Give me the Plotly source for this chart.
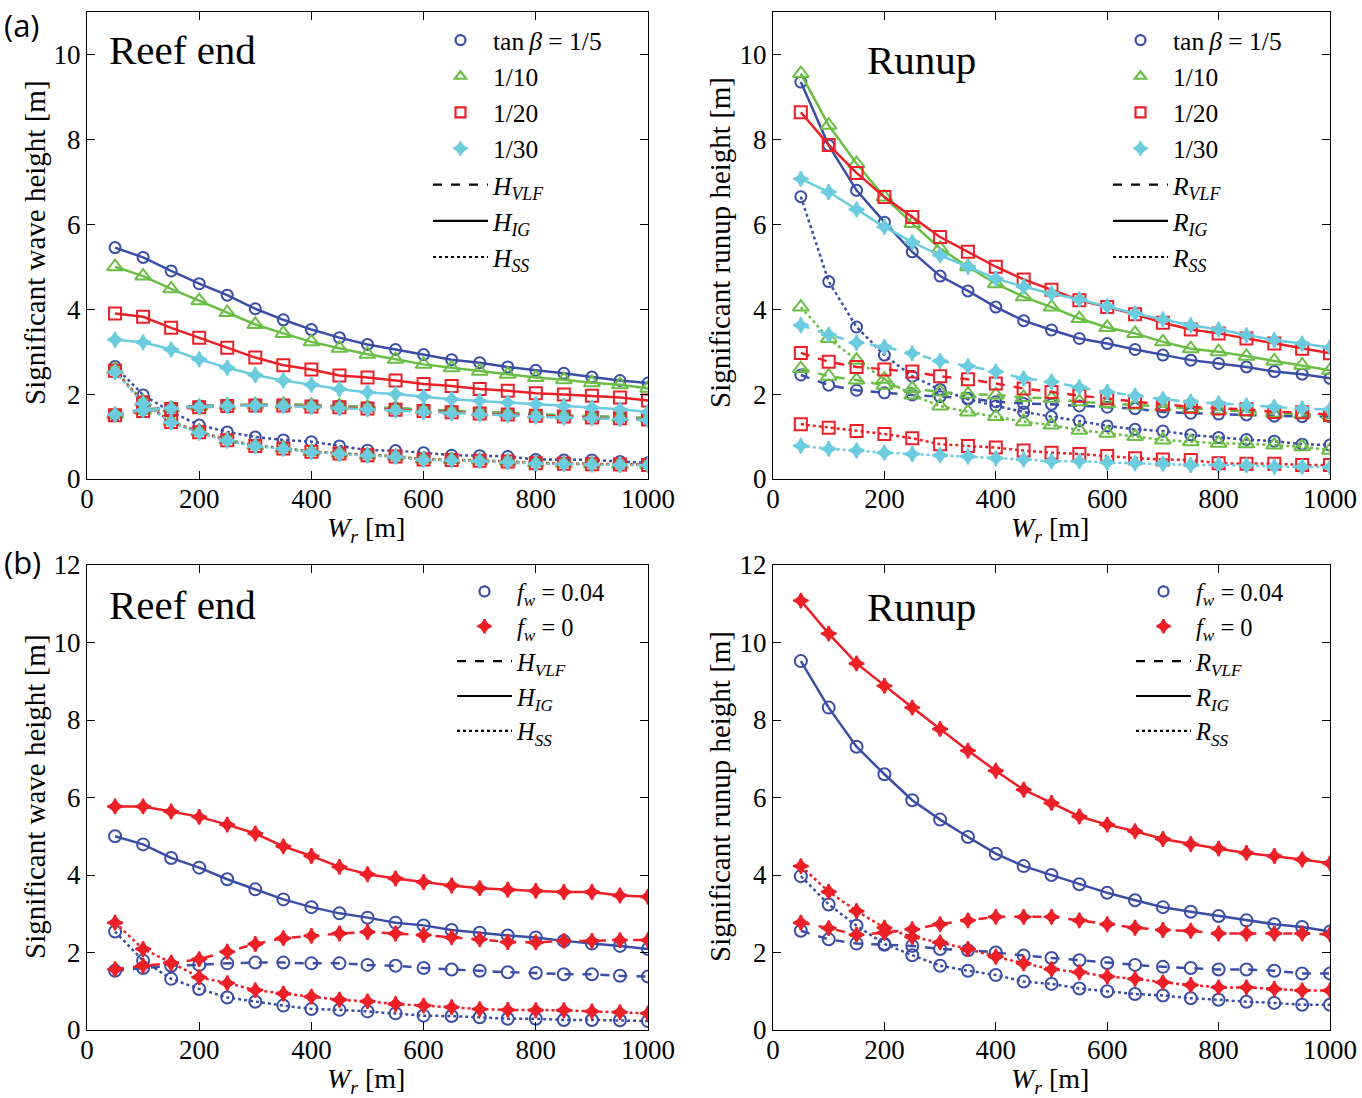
import plotly.graph_objects as go
from plotly.subplots import make_subplots

# ---------------- data ----------------
W = [50, 100, 150, 200, 250, 300, 350, 400, 450, 500, 550, 600, 650, 700, 750, 800, 850, 900, 950, 1000]

slope_labels = ["tan\u2009<i>β</i> = 1/5", "1/10", "1/20", "1/30"]

# (a) Reef end
H_IG_5 = [5.45, 5.22, 4.90, 4.60, 4.33, 4.01, 3.75, 3.52, 3.33, 3.17, 3.05, 2.93, 2.81, 2.74, 2.64, 2.56, 2.49, 2.40, 2.32, 2.26]
H_IG_10 = [5.00, 4.78, 4.48, 4.20, 3.92, 3.64, 3.43, 3.23, 3.08, 2.94, 2.82, 2.70, 2.62, 2.54, 2.47, 2.39, 2.34, 2.27, 2.22, 2.14]
H_IG_20 = [3.90, 3.82, 3.56, 3.33, 3.09, 2.86, 2.68, 2.58, 2.44, 2.39, 2.32, 2.24, 2.19, 2.12, 2.08, 2.02, 1.99, 1.96, 1.92, 1.85]
H_IG_30 = [3.28, 3.22, 3.05, 2.82, 2.62, 2.45, 2.32, 2.22, 2.12, 2.04, 2.00, 1.94, 1.88, 1.84, 1.80, 1.76, 1.72, 1.68, 1.64, 1.58]

H_VLF_5 = [1.52, 1.64, 1.68, 1.72, 1.74, 1.75, 1.75, 1.74, 1.72, 1.69, 1.66, 1.63, 1.60, 1.57, 1.54, 1.52, 1.49, 1.47, 1.45, 1.43]
H_VLF_10 = [1.52, 1.62, 1.67, 1.71, 1.74, 1.75, 1.76, 1.74, 1.72, 1.70, 1.67, 1.64, 1.61, 1.58, 1.55, 1.53, 1.50, 1.48, 1.46, 1.44]
H_VLF_20 = [1.50, 1.60, 1.65, 1.69, 1.72, 1.73, 1.73, 1.71, 1.69, 1.66, 1.63, 1.60, 1.57, 1.54, 1.52, 1.49, 1.47, 1.45, 1.43, 1.40]
H_VLF_30 = [1.52, 1.62, 1.66, 1.70, 1.72, 1.73, 1.72, 1.70, 1.67, 1.64, 1.61, 1.58, 1.55, 1.52, 1.50, 1.47, 1.45, 1.43, 1.41, 1.39]

H_SS_5 = [2.65, 1.98, 1.58, 1.27, 1.11, 0.99, 0.92, 0.88, 0.78, 0.68, 0.67, 0.62, 0.56, 0.55, 0.53, 0.46, 0.45, 0.45, 0.41, 0.38]
H_SS_10 = [2.58, 1.82, 1.36, 1.12, 0.93, 0.79, 0.73, 0.65, 0.61, 0.57, 0.54, 0.47, 0.46, 0.44, 0.42, 0.38, 0.37, 0.36, 0.35, 0.34]
H_SS_20 = [2.55, 1.80, 1.34, 1.10, 0.91, 0.78, 0.72, 0.64, 0.60, 0.56, 0.53, 0.46, 0.45, 0.43, 0.41, 0.37, 0.36, 0.35, 0.34, 0.33]
H_SS_30 = [2.52, 1.78, 1.33, 1.09, 0.90, 0.77, 0.71, 0.63, 0.59, 0.55, 0.52, 0.45, 0.44, 0.42, 0.40, 0.36, 0.35, 0.34, 0.33, 0.32]

# (a) Runup
R_IG_5 = [9.35, 7.86, 6.80, 6.05, 5.35, 4.78, 4.43, 4.05, 3.73, 3.51, 3.31, 3.19, 3.05, 2.92, 2.80, 2.72, 2.64, 2.53, 2.47, 2.37]
R_IG_10 = [9.55, 8.33, 7.43, 6.64, 6.02, 5.43, 5.00, 4.60, 4.29, 4.05, 3.78, 3.57, 3.43, 3.23, 3.07, 3.00, 2.89, 2.78, 2.68, 2.56]
R_IG_20 = [8.64, 7.87, 7.21, 6.64, 6.17, 5.70, 5.35, 5.00, 4.70, 4.46, 4.21, 4.05, 3.88, 3.68, 3.52, 3.43, 3.31, 3.19, 3.07, 2.96]
R_IG_30 = [7.07, 6.76, 6.35, 5.94, 5.58, 5.27, 5.00, 4.72, 4.53, 4.37, 4.23, 4.07, 3.90, 3.76, 3.62, 3.52, 3.39, 3.27, 3.19, 3.10]

R_VLF_5 = [2.45, 2.21, 2.09, 2.03, 1.98, 1.94, 1.90, 1.82, 1.78, 1.76, 1.72, 1.69, 1.66, 1.58, 1.55, 1.53, 1.51, 1.48, 1.47, 1.47]
R_VLF_10 = [2.60, 2.42, 2.33, 2.21, 2.13, 2.05, 2.00, 1.98, 1.92, 1.90, 1.82, 1.78, 1.74, 1.70, 1.66, 1.62, 1.58, 1.55, 1.53, 1.51]
R_VLF_20 = [2.97, 2.76, 2.64, 2.58, 2.53, 2.42, 2.35, 2.25, 2.13, 2.05, 1.96, 1.90, 1.82, 1.76, 1.70, 1.66, 1.64, 1.58, 1.57, 1.51]
R_VLF_30 = [3.62, 3.40, 3.21, 3.11, 2.96, 2.78, 2.66, 2.53, 2.37, 2.29, 2.16, 2.05, 1.96, 1.88, 1.82, 1.78, 1.73, 1.70, 1.66, 1.64]

R_SS_5 = [6.65, 4.65, 3.58, 2.92, 2.42, 2.11, 1.88, 1.72, 1.58, 1.47, 1.37, 1.25, 1.17, 1.13, 1.04, 0.98, 0.93, 0.89, 0.82, 0.80]
R_SS_10 = [4.05, 3.31, 2.80, 2.35, 1.98, 1.72, 1.58, 1.47, 1.35, 1.27, 1.15, 1.08, 1.00, 0.92, 0.88, 0.84, 0.83, 0.80, 0.76, 0.68]
R_SS_20 = [1.29, 1.21, 1.13, 1.06, 0.96, 0.82, 0.78, 0.74, 0.67, 0.62, 0.59, 0.54, 0.49, 0.46, 0.45, 0.37, 0.36, 0.36, 0.33, 0.33]
R_SS_30 = [0.78, 0.71, 0.67, 0.62, 0.59, 0.56, 0.53, 0.49, 0.46, 0.42, 0.42, 0.39, 0.37, 0.36, 0.33, 0.33, 0.32, 0.29, 0.29, 0.28]

# (b) friction
fw_labels = ["<i>f<sub>w</sub></i> = 0.04", "<i>f<sub>w</sub></i> = 0"]

H_IG_f004 = [5.00, 4.79, 4.44, 4.19, 3.89, 3.63, 3.37, 3.17, 3.01, 2.90, 2.77, 2.70, 2.58, 2.51, 2.44, 2.39, 2.30, 2.23, 2.17, 2.09]
H_IG_f0 = [5.77, 5.77, 5.64, 5.50, 5.30, 5.07, 4.74, 4.49, 4.21, 4.02, 3.91, 3.82, 3.73, 3.66, 3.62, 3.59, 3.56, 3.56, 3.47, 3.44]
H_VLF_f004 = [1.53, 1.60, 1.66, 1.68, 1.72, 1.74, 1.74, 1.72, 1.72, 1.68, 1.66, 1.60, 1.56, 1.53, 1.49, 1.47, 1.44, 1.44, 1.40, 1.38]
H_VLF_f0 = [1.57, 1.66, 1.72, 1.83, 2.02, 2.22, 2.37, 2.43, 2.49, 2.53, 2.49, 2.45, 2.39, 2.34, 2.27, 2.26, 2.30, 2.30, 2.32, 2.32]
H_SS_f004 = [2.54, 1.79, 1.32, 1.06, 0.84, 0.73, 0.63, 0.54, 0.52, 0.48, 0.43, 0.37, 0.36, 0.33, 0.29, 0.29, 0.26, 0.26, 0.25, 0.23]
H_SS_f0 = [2.77, 2.09, 1.74, 1.36, 1.21, 1.03, 0.94, 0.86, 0.78, 0.74, 0.67, 0.63, 0.59, 0.54, 0.52, 0.51, 0.51, 0.48, 0.46, 0.43]

R_IG_f004 = [9.52, 8.32, 7.31, 6.60, 5.93, 5.43, 4.98, 4.55, 4.23, 4.00, 3.76, 3.54, 3.35, 3.17, 3.05, 2.94, 2.83, 2.73, 2.66, 2.54]
R_IG_f0 = [11.08, 10.23, 9.46, 8.88, 8.32, 7.77, 7.21, 6.69, 6.20, 5.86, 5.51, 5.30, 5.13, 4.93, 4.80, 4.68, 4.57, 4.49, 4.40, 4.30]
R_VLF_f004 = [2.56, 2.34, 2.23, 2.20, 2.17, 2.09, 2.06, 2.00, 1.92, 1.86, 1.80, 1.73, 1.68, 1.63, 1.60, 1.56, 1.56, 1.53, 1.46, 1.46]
R_VLF_f0 = [2.77, 2.63, 2.46, 2.51, 2.60, 2.73, 2.83, 2.92, 2.92, 2.92, 2.83, 2.73, 2.64, 2.58, 2.56, 2.49, 2.49, 2.49, 2.49, 2.47]
R_SS_f004 = [3.97, 3.24, 2.69, 2.22, 1.93, 1.66, 1.53, 1.42, 1.25, 1.19, 1.07, 1.00, 0.93, 0.89, 0.82, 0.78, 0.73, 0.70, 0.65, 0.65]
R_SS_f0 = [4.23, 3.57, 3.07, 2.64, 2.40, 2.26, 2.09, 1.89, 1.72, 1.57, 1.49, 1.38, 1.32, 1.23, 1.16, 1.10, 1.10, 1.06, 1.02, 1.02]

x_ticks = [0, 200, 400, 600, 800, 1000]

# ---------------- styling ----------------
FIG_W, FIG_H = 1362, 1098
OFF = 0  # body margin removed by post_script below


def px_x(X):
    return (X - OFF) / FIG_W


def px_y(Y):
    return 1 - (Y - OFF) / FIG_H


BLUE = "#3b4ea6"
GREEN = "#6abd45"
RED = "#ec2027"
CYAN = "#6cccdf"
SERIF = "Liberation Serif"

slope_styles = [
    dict(color=BLUE, symbol="circle-open", size=11),
    dict(color=GREEN, symbol="triangle-up-open", size=14),
    dict(color=RED, symbol="square-open", size=12),
    dict(color=CYAN, symbol="star-diamond", size=11),
]
fw_styles = [
    dict(color=BLUE, symbol="circle-open", size=12),
    dict(color=RED, symbol="star-diamond", size=11),
]
comp_dash = {"VLF": "dash", "IG": "solid", "SS": "dot"}

fig = make_subplots(rows=2, cols=2)

domains = {
    (1, 1): ((87, 648), (12, 479)),
    (1, 2): ((773, 1330), (12, 479)),
    (2, 1): ((87, 648), (565, 1030)),
    (2, 2): ((773, 1330), (565, 1030)),
}
legend_names = {(1, 1): "legend", (1, 2): "legend2", (2, 1): "legend3", (2, 2): "legend4"}

panels = {
    (1, 1): dict(letter="H", series=[
        {"VLF": H_VLF_5, "IG": H_IG_5, "SS": H_SS_5},
        {"VLF": H_VLF_10, "IG": H_IG_10, "SS": H_SS_10},
        {"VLF": H_VLF_20, "IG": H_IG_20, "SS": H_SS_20},
        {"VLF": H_VLF_30, "IG": H_IG_30, "SS": H_SS_30},
    ], styles=slope_styles, labels=slope_labels),
    (1, 2): dict(letter="R", series=[
        {"VLF": R_VLF_5, "IG": R_IG_5, "SS": R_SS_5},
        {"VLF": R_VLF_10, "IG": R_IG_10, "SS": R_SS_10},
        {"VLF": R_VLF_20, "IG": R_IG_20, "SS": R_SS_20},
        {"VLF": R_VLF_30, "IG": R_IG_30, "SS": R_SS_30},
    ], styles=slope_styles, labels=slope_labels),
    (2, 1): dict(letter="H", series=[
        {"VLF": H_VLF_f004, "IG": H_IG_f004, "SS": H_SS_f004},
        {"VLF": H_VLF_f0, "IG": H_IG_f0, "SS": H_SS_f0},
    ], styles=fw_styles, labels=fw_labels),
    (2, 2): dict(letter="R", series=[
        {"VLF": R_VLF_f004, "IG": R_IG_f004, "SS": R_SS_f004},
        {"VLF": R_VLF_f0, "IG": R_IG_f0, "SS": R_SS_f0},
    ], styles=fw_styles, labels=fw_labels),
}

for (r, c), p in panels.items():
    lg = legend_names[(r, c)]
    for sty, ser in zip(p["styles"], p["series"]):
        for comp in ["SS", "VLF", "IG"]:
            mk = dict(symbol=sty["symbol"], size=sty["size"], color=sty["color"],
                      line=dict(width=2, color=sty["color"]))
            fig.add_trace(go.Scatter(
                x=W, y=ser[comp], mode="lines+markers",
                line=dict(color=sty["color"], width=2.5, dash=comp_dash[comp]),
                marker=mk, showlegend=False, hoverinfo="skip"), row=r, col=c)
    # legend entries: markers
    for sty, lab in zip(p["styles"], p["labels"]):
        fig.add_trace(go.Scatter(
            x=[None], y=[None], mode="markers", name=lab, legend=lg,
            marker=dict(symbol=sty["symbol"], size=10, color=sty["color"],
                        line=dict(width=2.2, color=sty["color"]))), row=r, col=c)
    # legend entries: line styles
    L = p["letter"]
    for comp in ["VLF", "IG", "SS"]:
        fig.add_trace(go.Scatter(
            x=[None], y=[None], mode="lines", name=f"<i>{L}<sub>{comp}</sub></i>", legend=lg,
            line=dict(color="black", width=2.2, dash=comp_dash[comp])), row=r, col=c)

# axes
for (r, c), ((x0, x1), (y0, y1)) in domains.items():
    top = r == 1
    fig.update_xaxes(
        domain=[px_x(x0), px_x(x1)], range=[0, 1000], tickvals=x_ticks,
        ticks="inside", ticklen=8, tickwidth=1, tickcolor="black",
        showline=True, linecolor="black", linewidth=1.2, mirror="ticks",
        showgrid=False, zeroline=False, automargin=False,
        ticklabeloverflow="allow", ticklabelstandoff=-5,
        tickfont=dict(family=SERIF, size=27, color="black"),
        row=r, col=c)
    fig.update_yaxes(
        domain=[px_y(y1), px_y(y0)],
        range=[0, 11] if top else [0, 12],
        tickvals=[0, 2, 4, 6, 8, 10] if top else [0, 2, 4, 6, 8, 10, 12],
        ticks="inside", ticklen=8, tickwidth=1, tickcolor="black",
        showline=True, linecolor="black", linewidth=1.2, mirror="ticks",
        showgrid=False, zeroline=False, automargin=False,
        ticklabeloverflow="allow",
        tickfont=dict(family=SERIF, size=27, color="black"),
        row=r, col=c)

legend_common = dict(
    bgcolor="rgba(0,0,0,0)", borderwidth=0, itemwidth=55,
    xanchor="left", yanchor="top", tracegroupgap=0, traceorder="normal",
    itemclick=False, itemdoubleclick=False,
)
top_font = dict(family=SERIF, size=25.5, color="black")
bot_font = dict(family=SERIF, size=24.5, color="black")
fig.update_layout(
    legend=dict(**legend_common, font=top_font, x=px_x(428), y=px_y(17)),
    legend2=dict(**legend_common, font=top_font, x=px_x(1108), y=px_y(17)),
    legend3=dict(**legend_common, font=bot_font, x=px_x(452), y=px_y(569)),
    legend4=dict(**legend_common, font=bot_font, x=px_x(1131), y=px_y(569)),
)

# axis titles, panel titles and labels
texts = [
    # text, X, Y, family, size, angle, xanchor
    ("Significant wave height [m]", 35, 243, SERIF, 29, -90, "center"),
    ("Significant runup height [m]", 720, 243, SERIF, 29, -90, "center"),
    ("Significant wave height [m]", 35, 797, SERIF, 29, -90, "center"),
    ("Significant runup height [m]", 720, 797, SERIF, 29, -90, "center"),
    ("<i>W<sub>r</sub></i> [m]", 366, 529, SERIF, 28, 0, "center"),
    ("<i>W<sub>r</sub></i> [m]", 1050, 529, SERIF, 28, 0, "center"),
    ("<i>W<sub>r</sub></i> [m]", 366, 1080, SERIF, 28, 0, "center"),
    ("<i>W<sub>r</sub></i> [m]", 1050, 1080, SERIF, 28, 0, "center"),
    ("Reef end", 107, 50, SERIF, 41, 0, "left"),
    ("Runup", 865, 60, SERIF, 41, 0, "left"),
    ("Reef end", 107, 605, SERIF, 41, 0, "left"),
    ("Runup", 865, 607, SERIF, 41, 0, "left"),
    ("(a)", 2, 25, "Open Sans", 31, 0, "left"),
    ("(b)", 2, 562, "Open Sans", 31, 0, "left"),
]
for text, X, Y, fam, sz, ang, xa in texts:
    fig.add_annotation(text=text, x=px_x(X), y=px_y(Y), xref="paper", yref="paper",
                       xanchor=xa, yanchor="middle", showarrow=False, textangle=ang,
                       font=dict(family=fam, size=sz, color="black"))

fig.update_layout(
    width=FIG_W, height=FIG_H, autosize=False,
    margin=dict(l=0, r=0, t=0, b=0, autoexpand=False),
    paper_bgcolor="white", plot_bgcolor="white",
)

fig.write_html("out.html", config={"displayModeBar": False},
               post_script="document.body.style.margin='0';document.body.style.overflow='hidden';")
